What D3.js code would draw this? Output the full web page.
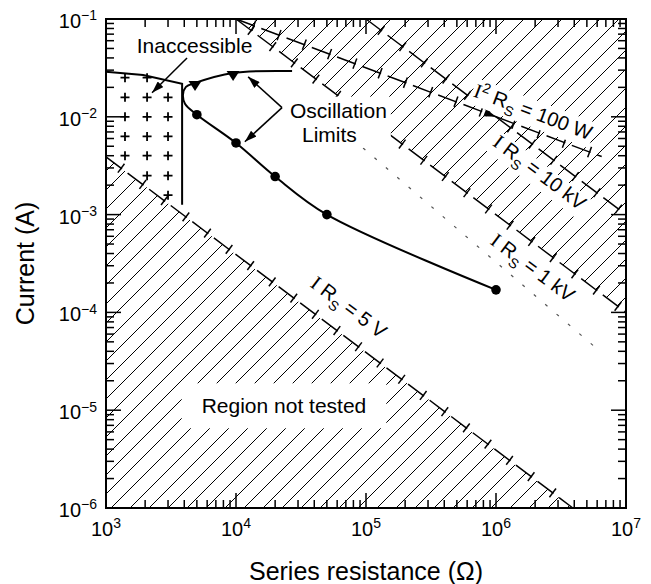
<!DOCTYPE html>
<html>
<head>
<meta charset="utf-8">
<script src="https://cdn.jsdelivr.net/npm/d3@7"></script>
<style>
  body { margin: 0; background: #fff; }
  svg { font-family: "Liberation Sans", Arial, sans-serif; }
  text { white-space: pre; }
</style>
</head>
<body>
<div id="my_dataviz"></div>
<script>
var width = 651
var height = 584
var margin = { top: 19, right: 25, bottom: 76, left: 106 }

// axis decades and their exponent labels
var xDecades = [1e3, 1e4, 1e5, 1e6, 1e7]
var xExponents = ["3", "4", "5", "6", "7"]
var yDecades = [1e-6, 1e-5, 1e-4, 1e-3, 1e-2, 1e-1]
var yExponents = ["\u22126", "\u22125", "\u22124", "\u22123", "\u22122", "\u22121"]

// oscillation limit curve, R (ohm) and I (A), upper branch -> nose -> lower branch
var curveR = [2.7e4, 9.5e3, 4.84e3, 4.12e3, 3.91e3, 4.05e3, 5e3, 1e4, 2e4, 5e4, 1e6]
var curveI = [0.0294, 0.0281, 0.0222, 0.0202, 0.0168, 0.0136, 0.0105, 5.4e-3, 2.45e-3, 1.0e-3, 1.7e-4]
var triangleR = [4.84e3, 9.5e3]
var triangleI = [0.0222, 0.0281]
var dotR = [5e3, 1e4, 2e4, 5e4, 1e6]
var dotI = [0.0105, 5.4e-3, 2.45e-3, 1.0e-3, 1.7e-4]

// inaccessible region boundary
var inaccR = [1e3, 1.93e3, 3.85e3, 3.85e3]
var inaccI = [0.0288, 0.0268, 0.0217, 1.26e-3]
var plusPts = [
  [1.4e3, 0.0251], [2.07e3, 0.0251],
  [1.4e3, 0.0158], [2.07e3, 0.0158], [3.0e3, 0.0158],
  [1.4e3, 0.01], [2.07e3, 0.01], [3.0e3, 0.01],
  [1.4e3, 0.0063], [2.07e3, 0.0063], [3.0e3, 0.0063],
  [1.4e3, 0.004], [2.07e3, 0.004], [3.0e3, 0.004],
  [2.07e3, 0.0025], [3.0e3, 0.0025],
  [3.0e3, 0.00158]
]

// limit lines [R, I]
var line5V = [[1e3, 3.9e-3], [3.9e6, 1e-6]]
var line1kV = [[1e4, 0.1], [1e7, 1e-4]]
var line10kV = [[1e5, 0.1], [1e7, 1e-3]]
var line100W = [[1e4, 0.1], [1e6, 0.01], [6.5e6, 3.92e-3]]
var lineFaint = [[9.5e4, 4.8e-3], [6.3e6, 4.0e-5]]

// hatched regions
var regionLow = [[1e3, 3.9e-3], [3.9e6, 1e-6], [1e3, 1e-6]]
var regionHigh = [[1e4, 0.1], [1e7, 1e-4], [1e7, 0.1]]

// the svg
var svg = d3.select("#my_dataviz")
    .append("svg")
    .attr("width", width)
    .attr("height", height)

var x = d3.scaleLog().domain([1e3, 1e7]).range([margin.left, width - margin.right])
var y = d3.scaleLog().domain([1e-6, 1e-1]).range([height - margin.bottom, margin.top])
var px = function (d) { return [x(d[0]), y(d[1])] }

var defs = svg.append("defs")
defs.append("marker")
    .attr("id", "arrow")
    .attr("viewBox", "0 0 12 8")
    .attr("refX", 12).attr("refY", 4)
    .attr("markerWidth", 13).attr("markerHeight", 8)
    .attr("markerUnits", "userSpaceOnUse")
    .attr("orient", "auto")
    .append("path").attr("d", "M0,0L12,4L0,8Z").attr("fill", "#000")

// text with sup / sub parts
function richText(sel, parts, size) {
    var shift = 0
    parts.forEach(function (p) {
        var target = p.sup ? -size * 0.38 : p.sub ? size * 0.3 : 0
        var s = sel.append("tspan").text(p.t).attr("dy", target - shift)
        shift = target
        if (p.sup || p.sub) s.attr("font-size", size * 0.7)
        if (p.serif) s.attr("font-family", "'Liberation Serif', serif")
    })
}

// hatching
function hatch(region, id) {
    defs.append("clipPath").attr("id", id)
        .append("path").attr("d", d3.line()(region.map(px)) + "Z")
    var g = svg.append("g").attr("clip-path", "url(#" + id + ")")
        .attr("stroke", "#000").attr("stroke-width", 1)
    var x0 = x.range()[0], x1 = x.range()[1], yb = y.range()[0], yt = y.range()[1]
    var h = yb - yt
    d3.range(x0 - h, x1, 19).forEach(function (c) {
        g.append("line").attr("x1", c).attr("y1", yb).attr("x2", c + h).attr("y2", yt)
    })
}
hatch(regionLow, "clipLow")
hatch(regionHigh, "clipHigh")

// dashed limit line with cross ticks
function limitLine(pts, arrowAt) {
    var p = pts.map(px)
    var g = svg.append("g").attr("stroke", "#000").attr("stroke-width", 1.5).attr("fill", "none")
    for (var i = 0; i < p.length - 1; i++) {
        var a = p[i], b = p[i + 1]
        var dx = b[0] - a[0], dy = b[1] - a[1], L = Math.hypot(dx, dy)
        var ux = dx / L, uy = dy / L
        var seg = g.append("line").attr("x1", a[0]).attr("y1", a[1]).attr("x2", b[0]).attr("y2", b[1])
            .attr("stroke-dasharray", "20,7")
        if (arrowAt === i) seg.attr("marker-end", "url(#arrow)")
        d3.range(19, L - 2, 27).forEach(function (t) {
            var cx = a[0] + ux * t, cy = a[1] + uy * t
            g.append("line")
                .attr("x1", cx - uy * 5.5).attr("y1", cy + ux * 5.5)
                .attr("x2", cx + uy * 5.5).attr("y2", cy - ux * 5.5)
        })
    }
}
limitLine(line5V)
limitLine(line1kV)
limitLine(line10kV)
limitLine(line100W, 0)

svg.append("path")
    .attr("d", d3.line()(lineFaint.map(px)))
    .attr("stroke", "#555").attr("stroke-width", 1.2).attr("fill", "none")
    .attr("stroke-dasharray", "3,12")

// labels along the limit lines
function lineLabel(pts, R, off, parts) {
    var a = pts[0], b = pts[pts.length - 1]
    var k = (Math.log10(b[1]) - Math.log10(a[1])) / (Math.log10(b[0]) - Math.log10(a[0]))
    var I = Math.pow(10, Math.log10(a[1]) + k * (Math.log10(R) - Math.log10(a[0])))
    var pa = px(a), pb = px(b)
    var ang = Math.atan2(pb[1] - pa[1], pb[0] - pa[0]) * 180 / Math.PI
    var g = svg.append("g").attr("transform", "translate(" + x(R) + "," + y(I) + ") rotate(" + ang + ")")
    var t = g.append("text").attr("y", off).attr("text-anchor", "middle").attr("font-size", 20)
    richText(t, parts, 20)
    var bb = t.node().getBBox()
    g.insert("rect", "text").attr("x", bb.x - 2).attr("y", bb.y + 2)
        .attr("width", bb.width + 4).attr("height", bb.height - 3).attr("fill", "#fff")
}
lineLabel(line5V, 5.6e4, -19, [{ t: "I", serif: true }, { t: " R" }, { t: "S", sub: true }, { t: " = 5 V" }])
lineLabel(line1kV, 2.38e6, 27, [{ t: "I", serif: true }, { t: " R" }, { t: "S", sub: true }, { t: " = 1 kV" }])
lineLabel(line10kV, 2.63e6, 25, [{ t: "I", serif: true }, { t: " R" }, { t: "S", sub: true }, { t: " = 10 kV" }])
lineLabel(line100W, 1.73e6, -11, [{ t: "I", serif: true }, { t: "2", sup: true }, { t: " R" }, { t: "S", sub: true }, { t: " = 100 W" }])

// boxed annotations
function boxedText(lines, padX, padY) {
    var g = svg.append("g")
    lines.forEach(function (l) {
        g.append("text").attr("x", x(l.R)).attr("y", y(l.I))
            .attr("text-anchor", l.anchor || "start").attr("font-size", 21).text(l.t)
    })
    var bb = g.node().getBBox()
    g.insert("rect", "text").attr("x", bb.x - padX).attr("y", bb.y - padY)
        .attr("width", bb.width + 2 * padX).attr("height", bb.height + 2 * padY).attr("fill", "#fff")
}
boxedText([{ t: "Region not tested", R: 2.34e4, I: 9.3e-6, anchor: "middle" }], 20, 11)
boxedText([{ t: "Oscillation", R: 2.6e4, I: 9.8e-3 }, { t: "Limits", R: 3.22e4, I: 5.56e-3 }], 4, 2)

svg.append("text").attr("x", x(4.8e3)).attr("y", y(0.045))
    .attr("text-anchor", "middle").attr("font-size", 21).text("Inaccessible")

// inaccessible boundary and plus marks
svg.append("path")
    .attr("d", d3.line()(inaccR.map(function (r, i) { return [x(r), y(inaccI[i])] })))
    .attr("fill", "none").attr("stroke", "#000").attr("stroke-width", 2)
svg.append("g").selectAll("path").data(plusPts).enter().append("path")
    .attr("d", function (d) { var c = px(d); return "M" + (c[0] - 4.5) + "," + c[1] + "h9M" + c[0] + "," + (c[1] - 4.5) + "v9" })
    .attr("stroke", "#000").attr("stroke-width", 1.8)

// arrows
var arrows = [
    [[4.2e3, 0.040], [2.26e3, 0.0176]],
    [[2.26e4, 0.0124], [1.24e4, 0.0256]],
    [[2.26e4, 0.0124], [1.17e4, 5.56e-3]]
]
svg.append("g").selectAll("line").data(arrows).enter().append("line")
    .attr("x1", function (d) { return x(d[0][0]) }).attr("y1", function (d) { return y(d[0][1]) })
    .attr("x2", function (d) { return x(d[1][0]) }).attr("y2", function (d) { return y(d[1][1]) })
    .attr("stroke", "#000").attr("stroke-width", 1.5).attr("marker-end", "url(#arrow)")

// oscillation curve
svg.append("path")
    .attr("d", d3.line().curve(d3.curveCatmullRom)(curveR.map(function (r, i) { return [x(r), y(curveI[i])] })))
    .attr("fill", "none").attr("stroke", "#000").attr("stroke-width", 2)
svg.append("g").selectAll("path").data(triangleR).enter().append("path")
    .attr("transform", function (d, i) { return "translate(" + x(d) + "," + y(triangleI[i]) + ")" })
    .attr("d", "M-6.5,-2L6.5,-2L0,8Z").attr("fill", "#000")
svg.append("g").selectAll("circle").data(dotR).enter().append("circle")
    .attr("cx", function (d) { return x(d) }).attr("cy", function (d, i) { return y(dotI[i]) })
    .attr("r", 4.8).attr("fill", "#000")

// frame and ticks
var xl = x.range()[0], xr = x.range()[1], yb = y.range()[0], yt = y.range()[1]
var tg = svg.append("g").attr("stroke", "#000").attr("stroke-width", 1.5)
xDecades.forEach(function (d, i) {
    d3.range(1, i < xDecades.length - 1 ? 10 : 2).forEach(function (k) {
        var v = x(d * k), len = k === 1 ? 15 : 8
        tg.append("line").attr("x1", v).attr("y1", yb).attr("x2", v).attr("y2", yb - len)
        tg.append("line").attr("x1", v).attr("y1", yt).attr("x2", v).attr("y2", yt + len)
    })
})
yDecades.forEach(function (d, i) {
    d3.range(1, i < yDecades.length - 1 ? 10 : 2).forEach(function (k) {
        var v = y(d * k), len = k === 1 ? 15 : 8
        tg.append("line").attr("x1", xl).attr("y1", v).attr("x2", xl + len).attr("y2", v)
        tg.append("line").attr("x1", xr).attr("y1", v).attr("x2", xr - len).attr("y2", v)
    })
})
svg.append("rect").attr("x", xl).attr("y", yt).attr("width", xr - xl).attr("height", yb - yt)
    .attr("fill", "none").attr("stroke", "#000").attr("stroke-width", 2)

// tick labels
xDecades.forEach(function (d, i) {
    var t = svg.append("text").attr("x", x(d)).attr("y", yb + 28)
        .attr("text-anchor", "middle").attr("font-size", 20)
    richText(t, [{ t: "10" }, { t: xExponents[i], sup: true }], 20)
})
yDecades.forEach(function (d, i) {
    var t = svg.append("text").attr("x", xl - 9).attr("y", y(d) + 9)
        .attr("text-anchor", "end").attr("font-size", 20)
    richText(t, [{ t: "10" }, { t: yExponents[i], sup: true }], 20)
})

// axis titles
svg.append("text").attr("x", (xl + xr) / 2).attr("y", yb + 72)
    .attr("text-anchor", "middle").attr("font-size", 25).text("Series resistance (\u03A9)")
svg.append("text").attr("transform", "translate(34," + (yb + yt) / 2 + ") rotate(-90)")
    .attr("text-anchor", "middle").attr("font-size", 25).text("Current (A)")
</script>
</body>
</html>
